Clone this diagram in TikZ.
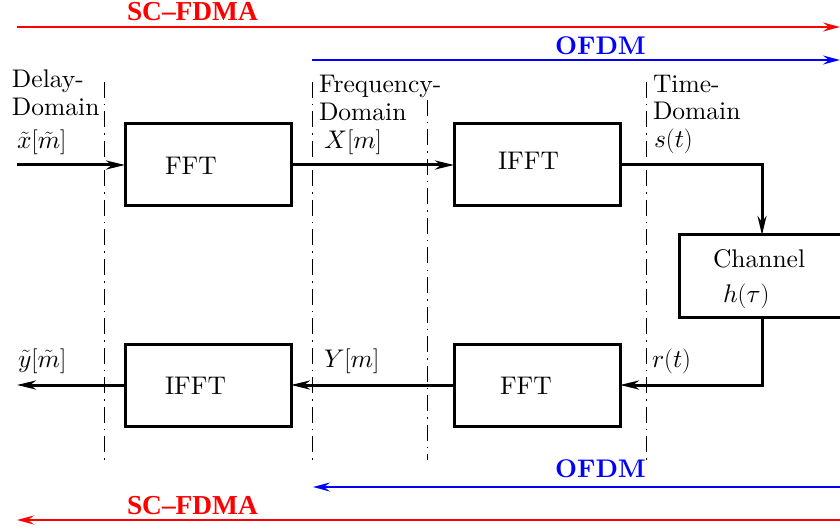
\documentclass[tikz,border=0pt]{standalone}
\usepackage{fontspec}
\setmainfont{lmroman10-regular}[Extension=.otf, BoldFont=lmroman10-bold, ItalicFont=lmroman10-italic, BoldItalicFont=lmroman10-bolditalic]
\newfontfamily\scfont{Liberation Serif}
\DeclareFontFamily{OML}{mycmm}{\skewchar\font127}
\DeclareFontShape{OML}{mycmm}{m}{it}{<-> cmmi10}{}
\DeclareSymbolFont{letters}{OML}{mycmm}{m}{it}
\usetikzlibrary{arrows.meta}
\begin{document}
\begin{tikzpicture}[x=1pt,y=-1pt,
  every node/.style={inner sep=0pt, outer sep=0pt, font=\fontsize{25.5}{28}\selectfont},
  lbl/.style={anchor=base west},
  blk/.style={draw, line width=3pt, minimum width=166pt, minimum height=82pt},
  sig/.style={line width=3pt, -{Stealth[length=19pt,width=9pt,inset=6pt]}},
  dom/.style={line width=1pt, dash pattern=on 16pt off 6pt on 1.5pt off 6pt},
  redarr/.style={red, line width=1.5pt, -{Stealth[length=17pt,width=9pt,inset=6pt]}},
  bluearr/.style={blue, line width=1.5pt, -{Stealth[length=17pt,width=9pt,inset=6pt]}},
  sclbl/.style={red, anchor=base west, font=\fontsize{27.4}{30}\selectfont\scfont\bfseries},
  ofdmlbl/.style={blue, anchor=base west, font=\fontsize{25.5}{28}\selectfont\bfseries},
]
\useasboundingbox (0,0) rectangle (840,529);
\clip (0,0) rectangle (840,529);

% domain separators
\coordinate (d1t) at (104,82);  \coordinate (d1b) at (104,460);
\coordinate (d2t) at (312,82);  \coordinate (d2b) at (312,460);
\coordinate (d3t) at (427,100); \coordinate (d3b) at (427,460);
\coordinate (d4t) at (646,82);  \coordinate (d4b) at (646,460);
\draw[dom] (d1t) -- (d1b);
\draw[dom] (d2t) -- (d2b);
\draw[dom] (d3t) -- (d3b);
\draw[dom] (d4t) -- (d4b);

% blocks
\node[blk] (fftA)  at (208,165) {};
\node[blk] (ifftA) at (537,165) {};
\node[blk] (chan)  at (762,276) {};
\node[blk] (fftB)  at (537,385) {};
\node[blk] (ifftB) at (208,385) {};

\node[lbl] (fftAl)  at (165,175) {FFT};
\node[lbl] (ifftAl) at (498,170) {IFFT};
\node[lbl] (chanl)  at (713,268) {Channel};
\node[lbl] (chanh)  at (723,302) {$h(\tau)$};
\node[lbl] (fftBl)  at (500,394) {FFT};
\node[lbl] (ifftBl) at (165,394) {IFFT};

% signal path
\coordinate (in)  at (17,165);
\coordinate (out) at (17,385);
\draw[sig] (in) -- (fftA.west);
\draw[sig] (fftA.east) -- (ifftA.west);
\draw[sig] (ifftA.east) -| (chan.north);
\draw[sig] (chan.south) |- (fftB.east);
\draw[sig] (fftB.west) -- (ifftB.east);
\draw[sig] (ifftB.west) -- (out);

% domain labels
\node[lbl] (dl1) at (12,88)  {Delay-};
\node[lbl] (dl2) at (12,116) {Domain};
\node[lbl] (xs)  at (17,149) {$\tilde{x}[\tilde{m}]$};
\node[lbl] (fl1) at (319,93) {Frequency-};
\node[lbl] (fl2) at (319,121) {Domain};
\node[lbl] (Xs)  at (324,149) {$X[m]$};
\node[lbl] (tl1) at (653,93) {Time-};
\node[lbl] (tl2) at (653,120) {Domain};
\node[lbl] (ss)  at (654,148) {$s(t)$};
\node[lbl] (ys)  at (18,367) {$\tilde{y}[\tilde{m}]$};
\node[lbl] (Ys)  at (324,367) {$Y[m]$};
\node[lbl] (rs)  at (652,367) {$r(t)$};

% system range arrows
\coordinate (r1s) at (17,27);   \coordinate (r1e) at (840,27);
\coordinate (b1s) at (312,60);  \coordinate (b1e) at (840,60);
\coordinate (b2s) at (840,487); \coordinate (b2e) at (313,487);
\coordinate (r2s) at (840,520); \coordinate (r2e) at (17,520);
\draw[redarr]  (r1s) -- (r1e);
\draw[bluearr] (b1s) -- (b1e);
\draw[bluearr] (b2s) -- (b2e);
\draw[redarr]  (r2s) -- (r2e);
\node[sclbl]   (sc1) at (127,21)  {SC–FDMA};
\node[ofdmlbl] (of1) at (555,55)  {OFDM};
\node[ofdmlbl] (of2) at (555,477) {OFDM};
\node[sclbl]   (sc2) at (127,514) {SC–FDMA};
\end{tikzpicture}
\end{document}
